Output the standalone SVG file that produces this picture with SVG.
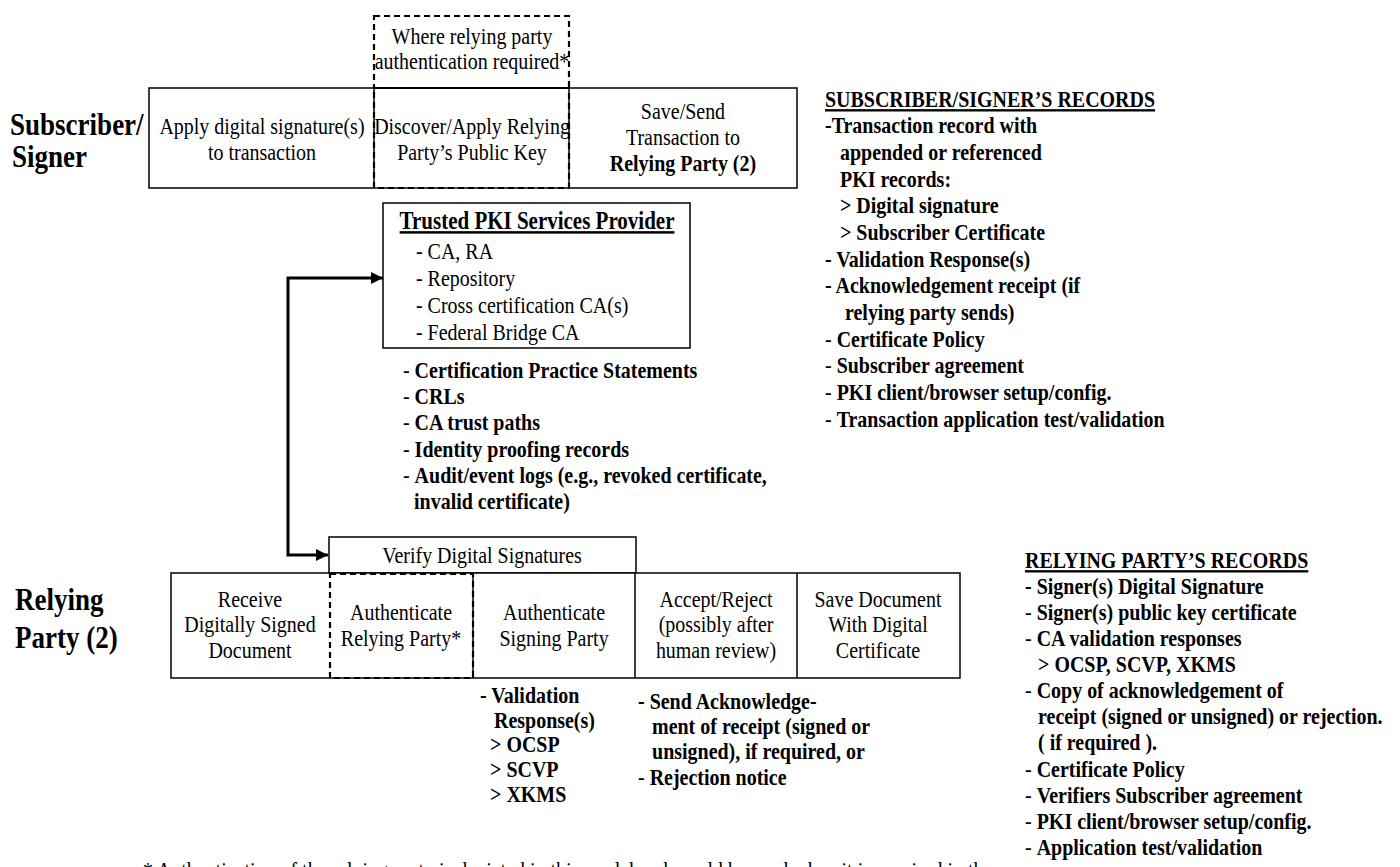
<svg xmlns="http://www.w3.org/2000/svg" width="1400" height="867" viewBox="0 0 1400 867">
<style>
text{font-family:"Liberation Serif","Times New Roman",serif;fill:#000}
.n{font-size:23.5px}
.c{text-anchor:middle}
.b{font-weight:bold;font-size:23.5px}
.nw{font-weight:normal}
.lbl{font-weight:bold;font-size:31.8px}
.u{text-decoration:underline}
.box{fill:#fff;stroke:#000;stroke-width:1.5}
.ln{stroke:#000;stroke-width:1.5}
.dash{fill:none;stroke:#000;stroke-width:2.2;stroke-dasharray:6,4}
.conn{fill:none;stroke:#000;stroke-width:3}
</style>
<defs>
<marker id="ah" viewBox="0 0 10 10" refX="10" refY="5" markerWidth="4.5" markerHeight="4" markerUnits="strokeWidth" orient="auto-start-reverse"><path d="M0,0 L10,5 L0,10 z" fill="#000"/></marker>
</defs>
<rect width="1400" height="867" fill="#fff"/>

<g id="subscriber-label"><g transform="scale(0.85 1)">
<text class="lbl" x="11.8" y="135">Subscriber/</text>
<text class="lbl" x="14.1" y="167">Signer</text>
</g></g>

<g id="sub-boxes">
<rect class="box" x="149" y="88" width="648" height="100"/>
<line class="ln" x1="374" y1="88" x2="374" y2="188"/>
<line class="ln" x1="569" y1="88" x2="569" y2="188"/>
</g>
<g id="apply-sig"><g transform="scale(0.85 1)">
<text class="n c" x="308.2" y="134">Apply digital signature(s)</text>
<text class="n c" x="308.2" y="160">to transaction</text>
</g></g>
<g id="where-rp">
<rect class="dash" x="374" y="16" width="195" height="72"/>
<g transform="scale(0.85 1)">
<text class="n c" x="555.3" y="44">Where relying party</text>
<text class="n c" x="555.3" y="69">authentication required*</text>
</g></g>
<g id="discover">
<rect class="dash" x="374" y="88" width="195" height="100"/>
<g transform="scale(0.85 1)">
<text class="n c" x="555.3" y="134">Discover/Apply Relying</text>
<text class="n c" x="555.3" y="160">Party’s Public Key</text>
</g></g>
<g id="save-send"><g transform="scale(0.85 1)">
<text class="n c" x="803.5" y="119">Save/Send</text>
<text class="n c" x="803.5" y="145">Transaction to</text>
<text class="b c" x="803.5" y="171">Relying Party (2)</text>
</g></g>

<g id="pki-provider">
<rect class="box" x="383" y="203" width="307" height="145"/>
<g transform="scale(0.85 1)">
<text class="b c u" x="631.8" y="229" style="font-size:24.7px">Trusted PKI Services Provider</text>
<text class="n" x="489.4" y="259">-  CA, RA</text>
<text class="n" x="489.4" y="286">-  Repository</text>
<text class="n" x="489.4" y="313">-  Cross certification CA(s)</text>
<text class="n" x="489.4" y="340">-  Federal Bridge CA</text>
</g></g>
<g id="pki-records"><g transform="scale(0.85 1)">
<text class="b" x="474.1" y="378"><tspan class="nw">- </tspan>Certification Practice Statements</text>
<text class="b" x="474.1" y="404"><tspan class="nw">- </tspan>CRLs</text>
<text class="b" x="474.1" y="430"><tspan class="nw">- </tspan>CA trust paths</text>
<text class="b" x="474.1" y="457"><tspan class="nw">-  </tspan>Identity proofing records</text>
<text class="b" x="474.1" y="483"><tspan class="nw">- </tspan>Audit/event logs (e.g., revoked certificate,</text>
<text class="b" x="487.1" y="509">invalid certificate)</text>
</g></g>

<g id="sub-records"><g transform="scale(0.85 1)">
<text class="b u" x="970.6" y="107">SUBSCRIBER/SIGNER’S RECORDS</text>
<text class="b" x="970.6" y="133">-Transaction record with</text>
<text class="b" x="988.2" y="160">appended or referenced</text>
<text class="b" x="988.2" y="187">PKI records:</text>
<text class="b" x="988.2" y="213">&gt; Digital signature</text>
<text class="b" x="988.2" y="240">&gt; Subscriber Certificate</text>
<text class="b" x="970.6" y="267">- Validation Response(s)</text>
<text class="b" x="970.6" y="293">- Acknowledgement receipt (if</text>
<text class="b" x="994.1" y="320">relying party sends)</text>
<text class="b" x="970.6" y="347"><tspan class="nw">- </tspan>Certificate Policy</text>
<text class="b" x="970.6" y="373"><tspan class="nw">- </tspan>Subscriber agreement</text>
<text class="b" x="970.6" y="400"><tspan class="nw">- </tspan>PKI client/browser setup/config.</text>
<text class="b" x="970.6" y="427"><tspan class="nw">- </tspan>Transaction application test/validation</text>
</g></g>

<g id="connectors">
<path class="conn" d="M383,278 L288,278 L288,555 L328,555" marker-start="url(#ah)" marker-end="url(#ah)"/>
</g>

<g id="relying-label"><g transform="scale(0.85 1)">
<text class="lbl" x="17.6" y="610">Relying</text>
<text class="lbl" x="17.6" y="648">Party (2)</text>
</g></g>

<g id="verify">
<rect class="box" x="329" y="537" width="307" height="36"/>
<g transform="scale(0.85 1)">
<text class="n c" x="567.1" y="563">Verify Digital Signatures</text>
</g></g>

<g id="rp-boxes">
<rect class="box" x="171" y="573" width="789" height="105"/>
<line class="ln" x1="473" y1="573" x2="473" y2="678"/>
<line class="ln" x1="635" y1="573" x2="635" y2="678"/>
<line class="ln" x1="797" y1="573" x2="797" y2="678"/>
</g>
<g id="receive"><g transform="scale(0.85 1)">
<text class="n c" x="294.1" y="607">Receive</text>
<text class="n c" x="294.1" y="632">Digitally Signed</text>
<text class="n c" x="294.1" y="658">Document</text>
</g></g>
<g id="auth-rp">
<rect class="dash" x="330" y="574" width="143" height="104"/>
<g transform="scale(0.85 1)">
<text class="n c" x="471.8" y="620">Authenticate</text>
<text class="n c" x="471.8" y="646">Relying Party*</text>
</g></g>
<g id="auth-sp"><g transform="scale(0.85 1)">
<text class="n c" x="651.8" y="620">Authenticate</text>
<text class="n c" x="651.8" y="646">Signing Party</text>
</g></g>
<g id="accept"><g transform="scale(0.85 1)">
<text class="n c" x="842.4" y="607">Accept/Reject</text>
<text class="n c" x="842.4" y="632">(possibly after</text>
<text class="n c" x="842.4" y="658">human review)</text>
</g></g>
<g id="save-doc"><g transform="scale(0.85 1)">
<text class="n c" x="1032.9" y="607">Save Document</text>
<text class="n c" x="1032.9" y="632">With Digital</text>
<text class="n c" x="1032.9" y="658">Certificate</text>
</g></g>

<g id="validation-notes"><g transform="scale(0.85 1)">
<text class="b" x="564.7" y="703">- Validation</text>
<text class="b" x="581.2" y="728">Response(s)</text>
<text class="b" x="576.5" y="752">&gt; OCSP</text>
<text class="b" x="576.5" y="777">&gt; SCVP</text>
<text class="b" x="576.5" y="802">&gt; XKMS</text>
</g></g>
<g id="ack-notes"><g transform="scale(0.85 1)">
<text class="b" x="750.6" y="709">- Send Acknowledge-</text>
<text class="b" x="767.1" y="734">ment of receipt (signed or</text>
<text class="b" x="767.1" y="759">unsigned),  if required, or</text>
<text class="b" x="750.6" y="785"><tspan class="nw">- </tspan>Rejection notice</text>
</g></g>

<g id="rp-records"><g transform="scale(0.85 1)">
<text class="b u" x="1205.9" y="568">RELYING PARTY’S RECORDS</text>
<text class="b" x="1205.9" y="594">- Signer(s) Digital Signature</text>
<text class="b" x="1205.9" y="620"><tspan class="nw">- </tspan>Signer(s) public key certificate</text>
<text class="b" x="1205.9" y="646"><tspan class="nw">- </tspan>CA validation responses</text>
<text class="b" x="1221.2" y="672">&gt; OCSP, SCVP, XKMS</text>
<text class="b" x="1205.9" y="698"><tspan class="nw">- </tspan>Copy of acknowledgement of</text>
<text class="b" x="1221.2" y="724">receipt (signed or unsigned) or rejection.</text>
<text class="b" x="1221.2" y="750">( if required ).</text>
<text class="b" x="1205.9" y="777"><tspan class="nw">- </tspan>Certificate Policy</text>
<text class="b" x="1205.9" y="803"><tspan class="nw">- </tspan>Verifiers Subscriber agreement</text>
<text class="b" x="1205.9" y="829"><tspan class="nw">- </tspan>PKI client/browser setup/config.</text>
<text class="b" x="1205.9" y="855"><tspan class="nw">- </tspan>Application test/validation</text>
</g></g>

<g id="footnote"><g transform="scale(0.85 1)">
<text class="n" x="168.2" y="878">*  Authentication of the relying party is depicted in this model and would be used when it is required in the</text>
</g></g>
</svg>
